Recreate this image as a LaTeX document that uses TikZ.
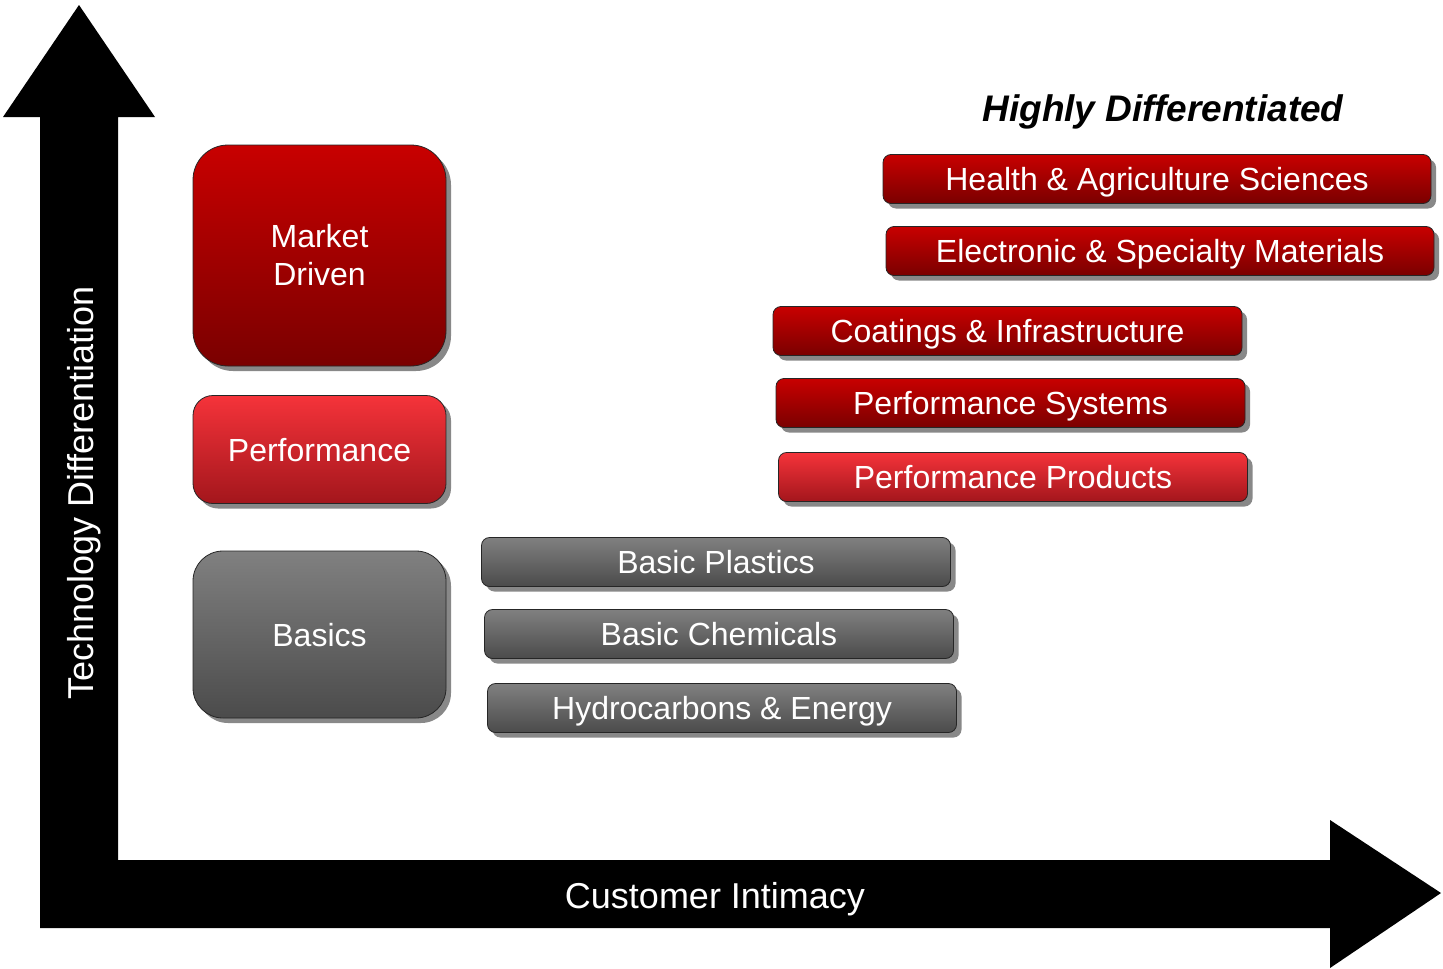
\documentclass[tikz,border=0pt]{standalone}
\usepackage{fontspec}
\setmainfont{Liberation Sans}
\usetikzlibrary{shadows}
\definecolor{dredT}{HTML}{C80000}
\definecolor{dredB}{HTML}{7A0000}
\definecolor{bredT}{HTML}{F5333A}
\definecolor{bredB}{HTML}{A3161C}
\definecolor{grayT}{HTML}{808080}
\definecolor{grayB}{HTML}{4B4B4B}
\tikzset{
  base/.style={draw=black!85, line width=0.8pt, text=white, inner sep=0pt,
    font=\fontsize{32}{38}\selectfont, align=center,
    drop shadow={shadow xshift=5pt, shadow yshift=-5pt, fill=black!55, opacity=0.85}},
  oneline/.style={text height=23pt, text depth=0pt},
  darkred/.style={base, top color=dredT, bottom color=dredB},
  brightred/.style={base, top color=bredT, bottom color=bredB},
  grey/.style={base, top color=grayT, bottom color=grayB},
  bar/.style={oneline, rounded corners=8pt, minimum width=469pt, minimum height=49pt},
  widebar/.style={bar, minimum width=548pt},
  axislabel/.style={text=white, font=\fontsize{36}{40}\selectfont, inner sep=0pt, text height=26pt, text depth=0pt},
}
\begin{document}
\begin{tikzpicture}[x=1pt,y=-1pt]
\useasboundingbox (0,0) rectangle (1443,969);
% axes
\fill[black] (40,860) -- (40,117) -- (3,117) -- (79,5) -- (155,117) -- (118,117) -- (118,860) -- cycle;
\fill[black] (40,860) -- (1330,860) -- (1330,820) -- (1441,893) -- (1330,968) -- (1330,928) -- (40,928) -- cycle;
\node[axislabel] (xlab) at (715,895) {Customer Intimacy};
\node[axislabel, rotate=90] (ylab) at (80,493) {Technology Differentiation};
% title
\node[font=\fontsize{37}{42}\selectfont\bfseries\itshape, inner sep=0pt, text height=26pt, text depth=0pt] (title) at (1163,108) {Highly Differentiated};
% left column
\node[darkred, rounded corners=35pt, minimum width=253pt, minimum height=221pt] (market) at (319.5,255.5) {Market\\Driven};
\node[brightred, oneline, rounded corners=20pt, minimum width=253pt, minimum height=108pt] (perf) at (319.5,449.5) {Performance};
\node[grey, oneline, rounded corners=30pt, minimum width=253pt, minimum height=167pt] (basics) at (319.5,634.5) {Basics};
% right bars
\node[darkred, widebar] (health) at (1157,179) {Health \& Agriculture Sciences};
\node[darkred, widebar] (elec) at (1160,251) {Electronic \& Specialty Materials};
\node[darkred, bar] (coat) at (1007.5,331) {Coatings \& Infrastructure};
\node[darkred, bar] (psys) at (1010.5,403) {Performance Systems};
\node[brightred, bar] (pprod) at (1013,477) {Performance Products};
\node[grey, bar] (plast) at (716,562) {Basic Plastics};
\node[grey, bar] (chem) at (719,634) {Basic Chemicals};
\node[grey, bar] (hydro) at (722,708) {Hydrocarbons \& Energy};
\end{tikzpicture}
\end{document}
